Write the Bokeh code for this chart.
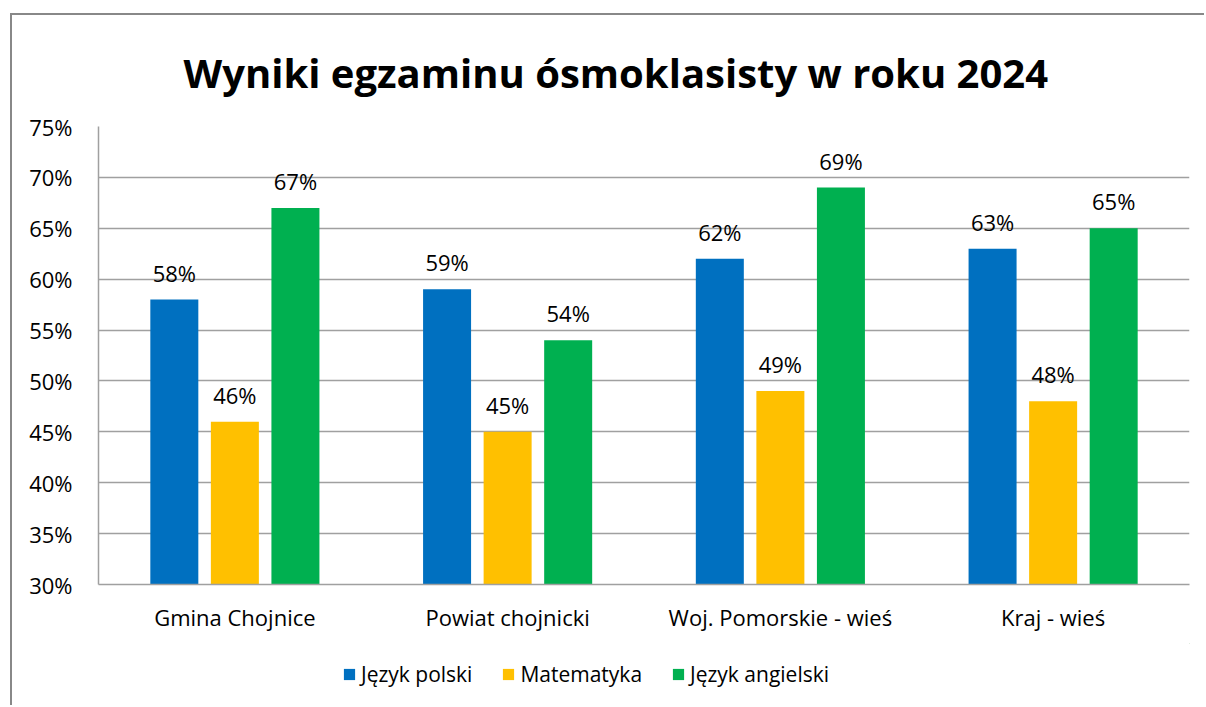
from bokeh.plotting import figure
from bokeh.layouts import column
from bokeh.models import (ColumnDataSource, FactorRange, Legend, LegendItem, LabelSet,
                          NumeralTickFormatter, FixedTicker)
from bokeh.core.properties import value
from bokeh.transform import dodge
from bokeh.embed import file_html
from bokeh.resources import INLINE

categories = ["Gmina Chojnice", "Powiat chojnicki", "Woj. Pomorskie - wieś", "Kraj - wieś"]
series_names = ["Język polski", "Matematyka", "Język angielski"]
polski = [58, 59, 62, 63]
matematyka = [46, 45, 49, 48]
angielski = [67, 54, 69, 65]
y_ticks = [30, 35, 40, 45, 50, 55, 60, 65, 70, 75]
title_text = "Wyniki egzaminu ósmoklasisty w roku 2024"

colors = ["#0070C0", "#FFC000", "#00B050"]
FONT = "Open Sans"
BORDER = "2px solid #888888"

src = ColumnDataSource(dict(
    cat=categories,
    polski=[v / 100 for v in polski],
    matematyka=[v / 100 for v in matematyka],
    angielski=[v / 100 for v in angielski],
    polski_l=[f"{v}%" for v in polski],
    matematyka_l=[f"{v}%" for v in matematyka],
    angielski_l=[f"{v}%" for v in angielski],
))

p = figure(width=1194, height=630, x_range=FactorRange(*categories, range_padding=0),
           y_range=(0.30, 0.75), output_backend="svg", toolbar_location=None,
           min_border_left=86, min_border_right=17, min_border_top=111, min_border_bottom=61,
           margin=(13, 0, 0, 10),
           styles={"border-left": BORDER, "border-top": BORDER})
p.outline_line_color = None
p.background_fill_color = "white"
p.border_fill_color = "white"

p.title.text = title_text
p.title.align = "left"
p.title.offset = 85
p.title.text_font = FONT
p.title.text_font_size = "40px"
p.title.text_font_style = "bold"
p.title.text_color = "#000000"
p.title.standoff = 54

offsets = [-0.222, 0.0, 0.222]
keys = ["polski", "matematyka", "angielski"]
for key, off, col in zip(keys, offsets, colors):
    p.vbar(x=dodge("cat", off, range=p.x_range), top=key, bottom=0.30, width=0.176,
           source=src, fill_color=col, line_color=None)
    lbl = LabelSet(x=dodge("cat", off, range=p.x_range), y=key, text=key + "_l", source=src,
                   text_align="center", text_baseline="middle", y_offset=27,
                   text_font=value(FONT), text_font_size=value("22px"), text_color="#000000")
    p.add_layout(lbl)

p.yaxis.ticker = FixedTicker(ticks=[t / 100 for t in y_ticks])
p.yaxis.formatter = NumeralTickFormatter(format="0%")
p.ygrid.ticker = FixedTicker(ticks=[t / 100 for t in y_ticks])
p.xgrid.grid_line_color = None
p.ygrid.grid_line_color = "#A0A0A0"
p.ygrid.grid_line_width = 1.5

for ax in (p.xaxis[0], p.yaxis[0]):
    ax.axis_line_color = "#A0A0A0"
    ax.axis_line_width = 1.5
    ax.major_tick_line_color = None
    ax.minor_tick_line_color = None
    ax.major_tick_out = 0
    ax.major_tick_in = 0
    ax.major_label_text_font = FONT
    ax.major_label_text_font_size = "22px"
    ax.major_label_text_color = "#000000"
p.yaxis.major_label_standoff = 26
p.xaxis.major_label_standoff = 17

# legend strip below the chart (legend-only renderers sit outside the visible range)
lg = figure(width=1194, height=62, output_backend="svg", toolbar_location=None,
            x_axis_type=None, y_axis_type=None, x_range=(0, 1), y_range=(0, 1),
            min_border=0, margin=(0, 0, 0, 10), styles={"border-left": BORDER})
lg.outline_line_color = None
lg.xgrid.grid_line_color = None
lg.ygrid.grid_line_color = None
leg_src = ColumnDataSource(dict(x=[5.0], top=[5.0], bottom=[4.0]))
leg_renderers = [lg.vbar(x="x", top="top", bottom="bottom", width=0.1, source=leg_src,
                         fill_color=c, line_color=None) for c in colors]
legend = Legend(items=[LegendItem(label=n, renderers=[r]) for n, r in zip(series_names, leg_renderers)],
                orientation="horizontal", location=(244, 17), padding=0, margin=0,
                spacing=29, glyph_width=14, glyph_height=14, label_standoff=5,
                label_text_font=FONT, label_text_font_size="21px", label_text_color="#000000",
                border_line_color=None, background_fill_alpha=0)
lg.add_layout(legend, "center")

layout = column(p, lg, spacing=0)
open("out.html", "w").write(file_html(layout, INLINE))
